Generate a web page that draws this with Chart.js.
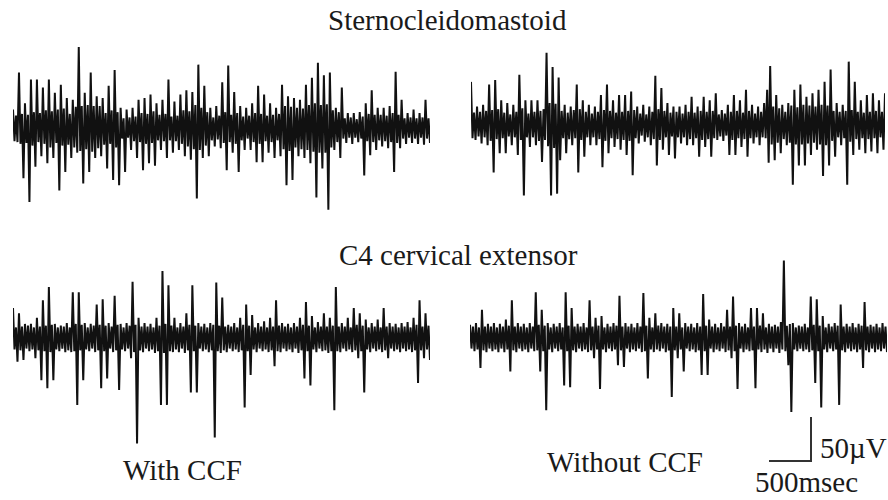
<!DOCTYPE html>
<html>
<head>
<meta charset="utf-8">
<script src="https://cdn.jsdelivr.net/npm/chart.js@4"></script>
<style>
  html, body { margin: 0; padding: 0; background: #fff; }
  #wrap { position: relative; width: 888px; height: 500px; overflow: hidden; }
  canvas { position: absolute; }
  .lbl { position: absolute; font-family: "Liberation Serif", serif; font-size: 29px;
         line-height: 29px; color: #1a1a1a; white-space: nowrap; }
  .bar { position: absolute; background: #333; }
</style>
</head>
<body>
<div id="wrap">
  <div class="lbl" style="left:328px; top:6px;">Sternocleidomastoid</div>
  <div class="lbl" style="left:339px; top:241px;">C4 cervical extensor</div>
  <div class="lbl" style="left:123px; top:456px;">With CCF</div>
  <div class="lbl" style="left:547px; top:448px;">Without CCF</div>
  <div class="lbl" style="left:820px; top:434px;">50µV</div>
  <div class="lbl" style="left:755px; top:468px;">500msec</div>
  <div class="bar" style="left:810px; top:417px; width:1.5px; height:45px;"></div>
  <div class="bar" style="left:769px; top:460px; width:43px; height:1.5px;"></div>

  <canvas id="scmWith" width="417" height="220" style="left:13px; top:18px;"></canvas>
  <canvas id="scmWithout" width="414" height="220" style="left:471px; top:15px;"></canvas>
  <canvas id="c4With" width="417" height="220" style="left:13px; top:228px;"></canvas>
  <canvas id="c4Without" width="417" height="220" style="left:470px; top:228px;"></canvas>
</div>
<script>
// surface EMG, amplitude in microvolts, ~18 ms per sample (about 5 s per trace)
const scmWithCCF = [
  21,-15,14,-16, 63,-18,16,-57, 28,-17,15,-84, 55,-20,18,-44, 55,-16,17,-32,
  46,-18,20,-40, 55,-22,19,-34, 40,-17,21,-71, 49,-20,22,-50, 34,-19,16,-34,
  32,-22,24,-28, 92,-26,25,-63, 40,-24,26,-50, 63,-27,25,-34, 36,-23,25,-32,
  34,-19,17,-46, 48,-18,20,-59, 66,-22,18,-65, 23,-12,11,-50, 21,-11,12,-25,
  23,-15,13,-34, 32,-16,17,-48, 34,-18,16,-40, 38,-17,19,-43, 28,-14,15,-25,
  32,-15,16,-34, 55,-14,13,-28, 30,-15,14,-25, 38,-18,20,-32, 43,-21,19,-36,
  41,-24,26,-80, 72,-25,23,-34, 48,-20,18,-32, 23,-14,12,-21, 25,-13,14,-23,
  52,-17,18,-48, 71,-16,15,-28, 41,-18,17,-50, 25,-14,13,-25, 23,-12,14,-25,
  28,-16,17,-39, 48,-18,16,-39, 38,-15,14,-28, 28,-16,15,-34, 23,-14,16,-32,
  49,-24,25,-65, 36,-26,24,-59, 34,-22,23,-32, 32,-24,22,-34, 49,-25,26,-40,
  57,-27,28,-79, 74,-28,26,-46, 60,-28,27,-93, 63,-22,20,-25, 23,-16,18,-34,
  46,-12,11,-17, 17,-11,12,-18, 17,-11,10,-16, 18,-12,13,-54, 28,-15,16,-31,
  43,-16,15,-25, 23,-14,15,-21, 23,-15,14,-23, 25,-16,17,-50, 64,-17,15,-23,
  32,-12,11,-18, 17,-11,12,-17, 21,-12,11,-18, 17,-11,12,-19, 32,-12,11,-17
];
const scmWithoutCCF = [
  49,-15,14,-17, 21,-13,15,-21, 23,-14,16,-23, 46,-18,17,-54, 51,-16,18,-32,
  28,-15,14,-32, 25,-13,12,-23, 23,-14,15,-34, 57,-17,19,-80, 28,-14,13,-25,
  28,-14,15,-23, 28,-18,16,-42, 18,-17, 82,-24,25,-80, 66,-26,24,-78, 54,
  -40,16,-15,23, -32,14,-16,21, -23,17,-15,46, -54,18,-17,28, -36,15,-14,23,
  -23,13,-14,21, -23,15,-16,34, -48,17,-18,46, -32,16,-15,28, -25,14,-16,34,
  -28,15,-17,34, -34,16,-18,38, -57,17,-15,21, -21,13,-12,23, -19,12,-14,21,
  -23,15,-16,56, -46,18,-17,42, -28,16,-14,25, -34,14,-13,21, -38,15,-14,21,
  -21,13,-14,23, -23,15,-16,32, -23,14,-15,21, -36,16,-17,32, -25,15,-16,28,
  -36,16,-15,36, -17,12,-13,17, -18,13,-12,23, -34,15,-17,34, -34,16,-15,28,
  -25,14,-16,40, -36,16,-15,23, -21,13,-14,21, -23,15,-14,25, -15,40,-43,
  67,-22,21,-40, 34,-20,19,-32, 23,-16,15,-23, 25,-20,22,-68, 40,-22,20,-46,
  46,-22,23,-46, 32,-21,22,-34, 36,-20,21,-28, 40,-22,23,-58, 49,-23,22,-46,
  63,-18,16,-36, 25,-14,15,-23, 23,-15,16,-68, 72,-19,17,-34, 49,-16,15,-28,
  28,-15,14,-32, 34,-16,15,-30, 36,-15,16,-32, 28,-14,15,-28, 36
];
const c4WithCCF = [
  34,-13,12,-27, 28,-14,13,-25, 16,-12,14,-15, 16,-13,12,-23, 23,-14,13,-48,
  43,-15,14,-57, 58,-16,15,-48, 16,-13,12,-15, 14,-12,13,-16, 17,-14,12,-16,
  52,-15,16,-76, 52,-14,15,-48, 17,-13,12,-15, 16,-12,14,-16, 38,-14,15,-57,
  44,-15,14,-46, 17,-12,13,-16, 48,-14,15,-59, 16,-13,12,-15, 17,-12,14,-23,
  64,-16,15,-120, 23,-14,13,-16, 17,-12,13,-15, 16,-13,12,-17, 23,-15,14,-76,
  76,-17,16,-76, 60,-15,14,-16, 23,-13,12,-16, 17,-12,13,-17, 28,-14,15,-62,
  60,-15,14,-62, 17,-12,13,-15, 16,-13,12,-16, 17,-14,15,-113, 63,-15,14,-17,
  46,-14,13,-16, 15,-12,13,-15, 17,-13,12,-16, 23,-14,15,-79, 38,-15,14,-42,
  26,-13,12,-16, 17,-12,13,-15, 19,-13,12,-16, 23,-14,13,-32, 43,-15,14,-16,
  17,-12,13,-15, 16,-13,12,-16, 17,-12,13,-17, 23,-14,15,-46, 41,-15,14,-54,
  25,-13,12,-16, 18,-12,13,-15, 28,-14,13,-17, 23,-15,14,-82, 58,-15,13,-16,
  17,-12,13,-15, 23,-13,12,-16, 34,-14,15,-23, 28,-15,14,-62, 21,-13,12,-16,
  17,-12,13,-15, 21,-13,12,-16, 34,-14,13,-23, 17,-12,13,-15, 16,-13,12,-16,
  17,-12,13,-15, 18,-13,12,-16, 23,-14,15,-51, 43,-14,13,-23, 28,-13,14,-25
];
const c4WithoutCCF = [
  15,-12,13,-15, 17,-13,12,-34, 32,-14,13,-16, 16,-12,13,-15, 17,-13,12,-16,
  16,-12,13,-16, 21,-13,14,-38, 43,-14,13,-16, 17,-12,13,-15, 16,-13,12,-16,
  17,-12,13,-15, 52,-14,15,-38, 32,-15,14,-82, 17,-13,12,-16, 16,-12,13,-15,
  17,-13,12,-54, 52,-15,14,-56, 34,-14,13,-16, 16,-12,13,-15, 17,-13,12,-16,
  43,-14,13,-23, 23,-13,14,-58, 25,-13,12,-16, 16,-12,13,-15, 17,-13,14,-31,
  48,-14,13,-33, 17,-12,13,-16, 16,-13,12,-15, 17,-12,13,-16, 51,-15,14,-46,
  23,-13,12,-16, 28,-13,14,-15, 17,-12,13,-16, 16,-14,13,-67, 34,-14,13,-23,
  28,-13,12,-38, 17,-12,13,-15, 16,-13,12,-16, 17,-14,13,-42, 50,-15,14,-42,
  21,-12,13,-16, 16,-13,12,-15, 17,-12,13,-16, 32,-14,13,-23, 47,-15,14,-58,
  17,-12,13,-16, 16,-13,12,-15, 34,-14,13,-57, 34,-13,14,-16, 28,-13,12,-17,
  16,-12,13,-16, 15,-12,13,-17, 18,-13, 88,-15,14,-31, 16,-84, 17,-13,12,-15,
  14,-12,13,-15, 16,-13,12,-16, 47,-14,15,-51, 44,-15,14,-79, 25,-13,12,-16,
  16,-12,13,-15, 17,-13,14,-76, 38,-14,13,-16, 16,-12,13,-15, 17,-13,12,-16,
  16,-13,14,-34, 41,-14,13,-16, 15,-12,13,-16, 16,-13,12,-15, 17,-12,13,-16
];

const drawTrace = (id, values) => {
  const ctx = document.getElementById(id);
  new Chart(ctx, {
    type: 'line',
    data: {
      labels: values.map((v, i) => i),
      datasets: [{
        data: values,
        borderColor: '#111111',
        borderWidth: 2,
        pointRadius: 0,
        tension: 0
      }]
    },
    options: {
      responsive: false,
      animation: false,
      events: [],
      layout: { padding: 0 },
      plugins: { legend: { display: false }, tooltip: { enabled: false } },
      scales: {
        x: { display: false },
        y: { display: false, min: -125, max: 125 }
      }
    }
  });
};

drawTrace('scmWith', scmWithCCF);
drawTrace('scmWithout', scmWithoutCCF);
drawTrace('c4With', c4WithCCF);
drawTrace('c4Without', c4WithoutCCF);
</script>
</body>
</html>
